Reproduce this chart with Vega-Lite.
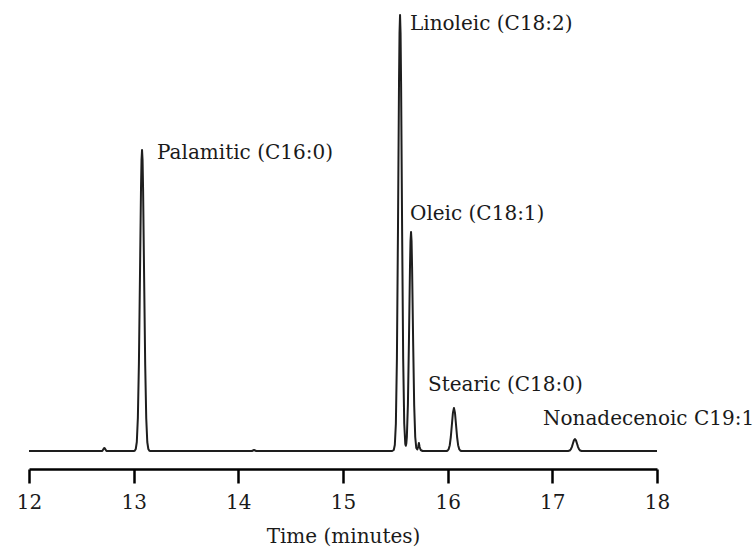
{
  "$schema": "https://vega.github.io/schema/vega-lite/v6.json",
  "autosize": {"type": "none"},
  "width": 628,
  "height": 469,
  "padding": {"left": 29, "top": 0, "right": 96, "bottom": 78},
  "background": "white",
  "config": {"view": {"stroke": null}},
  "datasets": {
    "trace": [
      {"t": 12.0, "s": 0}, {"t": 12.70, "s": 0}, {"t": 12.712, "s": 2}, {"t": 12.72, "s": 3}, {"t": 12.728, "s": 2}, {"t": 12.74, "s": 0},
      {"t": 13.0, "s": 0}, {"t": 13.01, "s": 0.3}, {"t": 13.02, "s": 2}, {"t": 13.03, "s": 9}, {"t": 13.04, "s": 33}, {"t": 13.05, "s": 87}, {"t": 13.06, "s": 173}, {"t": 13.07, "s": 262}, {"t": 13.075, "s": 291}, {"t": 13.08, "s": 301}, {"t": 13.085, "s": 291}, {"t": 13.09, "s": 262}, {"t": 13.10, "s": 173}, {"t": 13.11, "s": 87}, {"t": 13.12, "s": 33}, {"t": 13.13, "s": 9}, {"t": 13.14, "s": 2}, {"t": 13.15, "s": 0.3}, {"t": 13.16, "s": 0},
      {"t": 14.13, "s": 0}, {"t": 14.15, "s": 1}, {"t": 14.17, "s": 0},
      {"t": 15.47, "s": 0}, {"t": 15.485, "s": 1}, {"t": 15.495, "s": 6}, {"t": 15.505, "s": 27}, {"t": 15.515, "s": 92}, {"t": 15.525, "s": 218}, {"t": 15.535, "s": 367}, {"t": 15.54, "s": 418}, {"t": 15.545, "s": 436}, {"t": 15.55, "s": 418}, {"t": 15.555, "s": 367}, {"t": 15.565, "s": 218}, {"t": 15.575, "s": 92}, {"t": 15.585, "s": 27.5}, {"t": 15.595, "s": 7}, {"t": 15.60, "s": 5.2}, {"t": 15.605, "s": 7.5}, {"t": 15.61, "s": 14}, {"t": 15.62, "s": 46}, {"t": 15.63, "s": 110}, {"t": 15.64, "s": 184}, {"t": 15.645, "s": 210}, {"t": 15.65, "s": 219}, {"t": 15.655, "s": 210}, {"t": 15.66, "s": 184}, {"t": 15.67, "s": 110}, {"t": 15.68, "s": 46}, {"t": 15.69, "s": 14}, {"t": 15.70, "s": 3}, {"t": 15.71, "s": 1.5}, {"t": 15.718, "s": 4}, {"t": 15.725, "s": 8}, {"t": 15.732, "s": 4}, {"t": 15.742, "s": 1}, {"t": 15.76, "s": 0},
      {"t": 15.99, "s": 0}, {"t": 16.0, "s": 0.5}, {"t": 16.01, "s": 1.9}, {"t": 16.02, "s": 5.8}, {"t": 16.03, "s": 14}, {"t": 16.04, "s": 26}, {"t": 16.05, "s": 38}, {"t": 16.06, "s": 43}, {"t": 16.07, "s": 38}, {"t": 16.08, "s": 26}, {"t": 16.09, "s": 14}, {"t": 16.10, "s": 5.8}, {"t": 16.11, "s": 1.9}, {"t": 16.12, "s": 0.5}, {"t": 16.13, "s": 0},
      {"t": 17.15, "s": 0}, {"t": 17.166, "s": 0.5}, {"t": 17.176, "s": 1.6}, {"t": 17.186, "s": 3.9}, {"t": 17.196, "s": 7.3}, {"t": 17.206, "s": 10.6}, {"t": 17.216, "s": 12}, {"t": 17.226, "s": 10.6}, {"t": 17.236, "s": 7.3}, {"t": 17.246, "s": 3.9}, {"t": 17.256, "s": 1.6}, {"t": 17.266, "s": 0.5}, {"t": 17.28, "s": 0},
      {"t": 18.0, "s": 0}
    ],
    "labels": [
      {"label": "Palamitic (C16:0)", "t": 13.223, "s": 292},
      {"label": "Linoleic (C18:2)", "t": 15.640, "s": 421},
      {"label": "Oleic (C18:1)", "t": 15.640, "s": 231},
      {"label": "Stearic (C18:0)", "t": 15.812, "s": 60},
      {"label": "Nonadecenoic C19:1", "t": 16.911, "s": 26}
    ]
  },
  "layer": [
    {
      "data": {"name": "trace"},
      "mark": {"type": "line", "color": "#1e1e1e", "strokeWidth": 2, "strokeJoin": "round"},
      "encoding": {
        "x": {
          "field": "t", "type": "quantitative",
          "scale": {"domain": [12, 18], "nice": false, "zero": false},
          "axis": {
            "title": "Time (minutes)",
            "values": [12, 12.5, 13, 13.5, 14, 14.5, 15, 15.5, 16, 16.5, 17, 17.5, 18],
            "format": "d",
            "labelExpr": "datum.value % 1 === 0 ? datum.label : ''",
            "tickSize": {"condition": {"test": "datum.value % 1 === 0", "value": 14}, "value": 8},
            "tickWidth": 2.5,
            "tickColor": "#000",
            "domainWidth": 2.5,
            "domainColor": "#000",
            "grid": false,
            "labelFont": "DejaVu Serif",
            "labelFontSize": 20,
            "labelColor": "#1a1a1a",
            "labelPadding": 9,
            "labelFlush": false,
            "labelOverlap": false,
            "titleFont": "DejaVu Serif",
            "titleFontSize": 20,
            "titleFontWeight": "normal",
            "titleColor": "#1a1a1a",
            "titlePadding": 14
          }
        },
        "y": {
          "field": "s", "type": "quantitative",
          "scale": {"domain": [-18, 451], "nice": false, "zero": false},
          "axis": null
        }
      }
    },
    {
      "data": {"name": "labels"},
      "mark": {"type": "text", "align": "left", "baseline": "alphabetic", "font": "DejaVu Serif", "fontSize": 20, "color": "#1a1a1a"},
      "encoding": {
        "x": {"field": "t", "type": "quantitative"},
        "y": {"field": "s", "type": "quantitative"},
        "text": {"field": "label"}
      }
    }
  ]
}
